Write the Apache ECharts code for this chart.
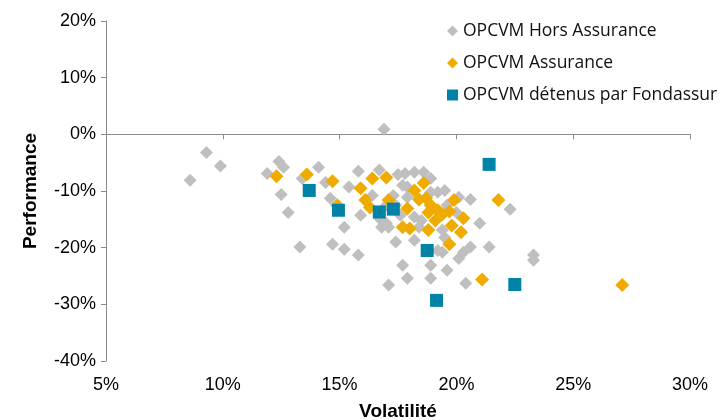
<!DOCTYPE html>
<html>
<head>
<meta charset="utf-8">
<script src="https://cdn.jsdelivr.net/npm/echarts@6/dist/echarts.min.js"></script>
<style>html,body{margin:0;padding:0;background:#fff}#c{width:724px;height:420px}</style>
</head>
<body>
<div id="c"></div>
<script>
// Data (volatility %, performance %)
const seriesNames = ['OPCVM Hors Assurance', 'OPCVM Assurance', 'OPCVM détenus par Fondassur'];
const xTicks = [5, 10, 15, 20, 25, 30];
const yTicks = [-40, -30, -20, -10, 0, 10, 20];

const horsAssurance = [
  [8.6,-8.1],[9.3,-3.2],[9.9,-5.6],[11.9,-6.9],[12.4,-4.8],[12.6,-5.8],[12.5,-10.6],[12.8,-13.8],[13.3,-19.9],
  [13.4,-7.8],[14.1,-5.8],[14.4,-8.5],[14.6,-11.3],[14.7,-19.4],[15.2,-20.3],[15.2,-16.4],[15.8,-21.3],[15.9,-14.3],
  [15.4,-9.3],[15.8,-6.5],[16.7,-6.3],[16.4,-10.8],[16.9,0.9],[17.8,-6.9],[18.2,-6.7],[18.6,-6.7],[17.9,-9.3],
  [18.9,-7.8],[17.9,-11.1],[19.2,-10.2],[19.5,-9.9],[20.1,-11.1],[20.6,-11.5],[22.3,-13.2],[21.0,-15.7],[21.4,-19.9],
  [20.6,-19.9],[20.3,-20.8],[20.1,-21.9],[23.3,-21.3],[23.3,-22.2],[19.5,-18.2],[19.4,-16.9],[19.2,-20.5],[19.4,-20.8],
  [16.7,-14.8],[17.0,-15.7],[16.8,-16.4],[17.1,-16.4],[18.2,-14.6],[18.4,-16.4],[17.4,-19.0],[18.2,-18.7],
  [17.7,-23.1],[18.9,-23.1],[19.6,-24.0],[17.9,-25.4],[18.9,-25.4],[20.4,-26.3],[17.1,-26.6],
  [17.4,-12.5],[17.6,-14.3],[18.5,-15.2],[17.3,-10.8],[17.0,-12.5],[17.7,-9.0],[18.9,-10.2],[19.6,-12.5],[20.0,-13.8],
  [17.5,-7.1]
];
const assurance = [
  [12.3,-7.4],[13.6,-7.1],[14.7,-8.3],[14.9,-12.5],[15.9,-9.5],[16.4,-7.8],[17.0,-7.6],[16.1,-11.6],[16.3,-12.9],
  [17.1,-11.6],[17.7,-16.4],[17.9,-13.1],[18.0,-16.6],[18.2,-9.9],[18.6,-8.6],[18.4,-11.5],[18.7,-11.3],[18.9,-12.5],
  [18.8,-13.8],[19.1,-15.2],[18.8,-16.9],[19.2,-13.4],[19.4,-14.1],[19.7,-13.6],[19.9,-11.6],[20.3,-14.8],[20.2,-17.3],
  [19.8,-16.1],[19.7,-19.4],[21.8,-11.6],[21.1,-25.6],[27.1,-26.6]
];
const fondassur = [
  [13.7,-9.9],[14.95,-13.4],[16.7,-13.7],[17.3,-13.2],[21.4,-5.3],[18.75,-20.5],[22.5,-26.5],[19.15,-29.3]
];

const chart = echarts.init(document.getElementById('c'), null, {renderer: 'canvas'});
const tickFont = {fontFamily: 'Liberation Sans', fontSize: 18, color: '#000'};
const nameFont = {fontFamily: 'Liberation Sans', fontSize: 19, fontWeight: 'bold', color: '#000'};
const axisGray = '#8c8c8c';

chart.setOption({
  animation: false,
  backgroundColor: '#fff',
  grid: {left: 106, right: 34, top: 21, bottom: 59, containLabel: false, outerBoundsMode: 'none'},
  legend: {
    orient: 'vertical', left: 442, top: 16, itemGap: 12, itemWidth: 11, itemHeight: 11,
    textStyle: {fontFamily: 'Open Sans', fontSize: 17.5, color: '#111', lineHeight: 20},
    data: [
      {name: seriesNames[0], icon: 'diamond', itemStyle: {color: '#BFBFBF'}},
      {name: seriesNames[1], icon: 'diamond', itemStyle: {color: '#F0AB00'}},
      {name: seriesNames[2], icon: 'rect', itemStyle: {color: '#0083A6'}}
    ]
  },
  xAxis: [
    {
      type: 'value', min: xTicks[0], max: xTicks[xTicks.length - 1], interval: 5,
      axisLine: {show: true, onZero: true, lineStyle: {color: axisGray, width: 1}},
      axisTick: {show: true, length: 5, lineStyle: {color: axisGray}},
      axisLabel: {show: false}, splitLine: {show: false}
    },
    {
      type: 'value', position: 'bottom', min: xTicks[0], max: xTicks[xTicks.length - 1], interval: 5,
      axisLine: {show: false, onZero: false}, axisTick: {show: false}, splitLine: {show: false},
      axisLabel: Object.assign({margin: 15, formatter: '{value}%'}, tickFont),
      name: 'Volatilité', nameLocation: 'middle', nameGap: 41, nameTextStyle: nameFont
    }
  ],
  yAxis: {
    type: 'value', min: yTicks[0], max: yTicks[yTicks.length - 1], interval: 10,
    axisLine: {show: true, onZero: false, lineStyle: {color: axisGray, width: 1}},
    axisTick: {show: true, length: 5, lineStyle: {color: axisGray}},
    splitLine: {show: false},
    axisLabel: Object.assign({margin: 10, formatter: '{value}%'}, tickFont),
    name: 'Performance', nameLocation: 'middle', nameGap: 66, nameTextStyle: nameFont
  },
  series: [
    {name: seriesNames[0], type: 'scatter', xAxisIndex: 0, symbol: 'diamond', symbolSize: 13, z: 2,
     itemStyle: {color: '#BFBFBF', opacity: 1}, data: horsAssurance},
    {name: seriesNames[1], type: 'scatter', xAxisIndex: 0, symbol: 'diamond', symbolSize: 14, z: 3,
     itemStyle: {color: '#F0AB00', opacity: 1}, data: assurance},
    {name: seriesNames[2], type: 'scatter', xAxisIndex: 0, symbol: 'rect', symbolSize: 13, z: 4,
     itemStyle: {color: '#0083A6', opacity: 1}, data: fondassur}
  ]
});
</script>
</body>
</html>
